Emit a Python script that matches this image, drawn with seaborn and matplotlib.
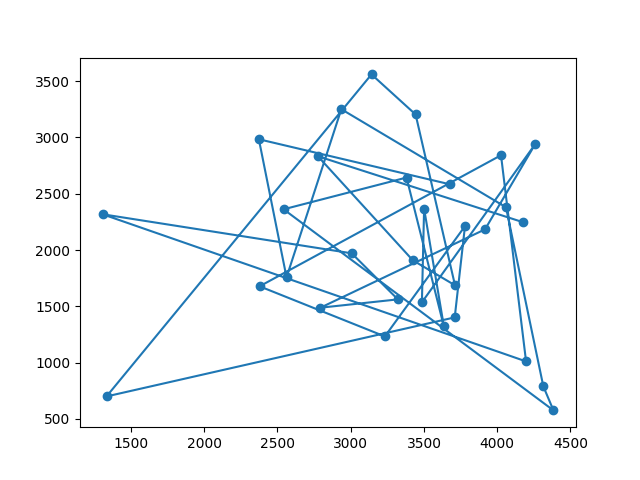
import matplotlib
matplotlib.use("Agg")
import matplotlib.pyplot as plt
import seaborn as sns
import pandas as pd

# points in the order they are joined
x_vals = [3677, 2373, 2562, 2936, 4060, 4315, 4384, 2542, 3381, 3636, 3501,
          3486, 4259, 3917, 2793, 3322, 3007, 1306, 4197, 4026, 2378, 3233,
          3780, 3710, 1333, 3142, 3443, 3712, 3424, 2776, 4177]
y_vals = [2584, 2984, 1758, 3251, 2380, 789, 576, 2362, 2644, 1322, 2368,
          1536, 2940, 2184, 1488, 1562, 1971, 2318, 1011, 2842, 1678, 1233,
          2212, 1402, 700, 3560, 3204, 1687, 1909, 2833, 2247]

df = pd.DataFrame({"x": x_vals, "y": y_vals})

fig, ax = plt.subplots(figsize=(6.4, 4.8), dpi=100)
sns.lineplot(data=df, x="x", y="y", sort=False, estimator=None, ax=ax,
             color="#1f77b4", linewidth=1.5, marker="o", markersize=6,
             markeredgecolor="#1f77b4", markeredgewidth=1)
ax.set_xlabel("")
ax.set_ylabel("")
fig.savefig("out.png", dpi=100)
